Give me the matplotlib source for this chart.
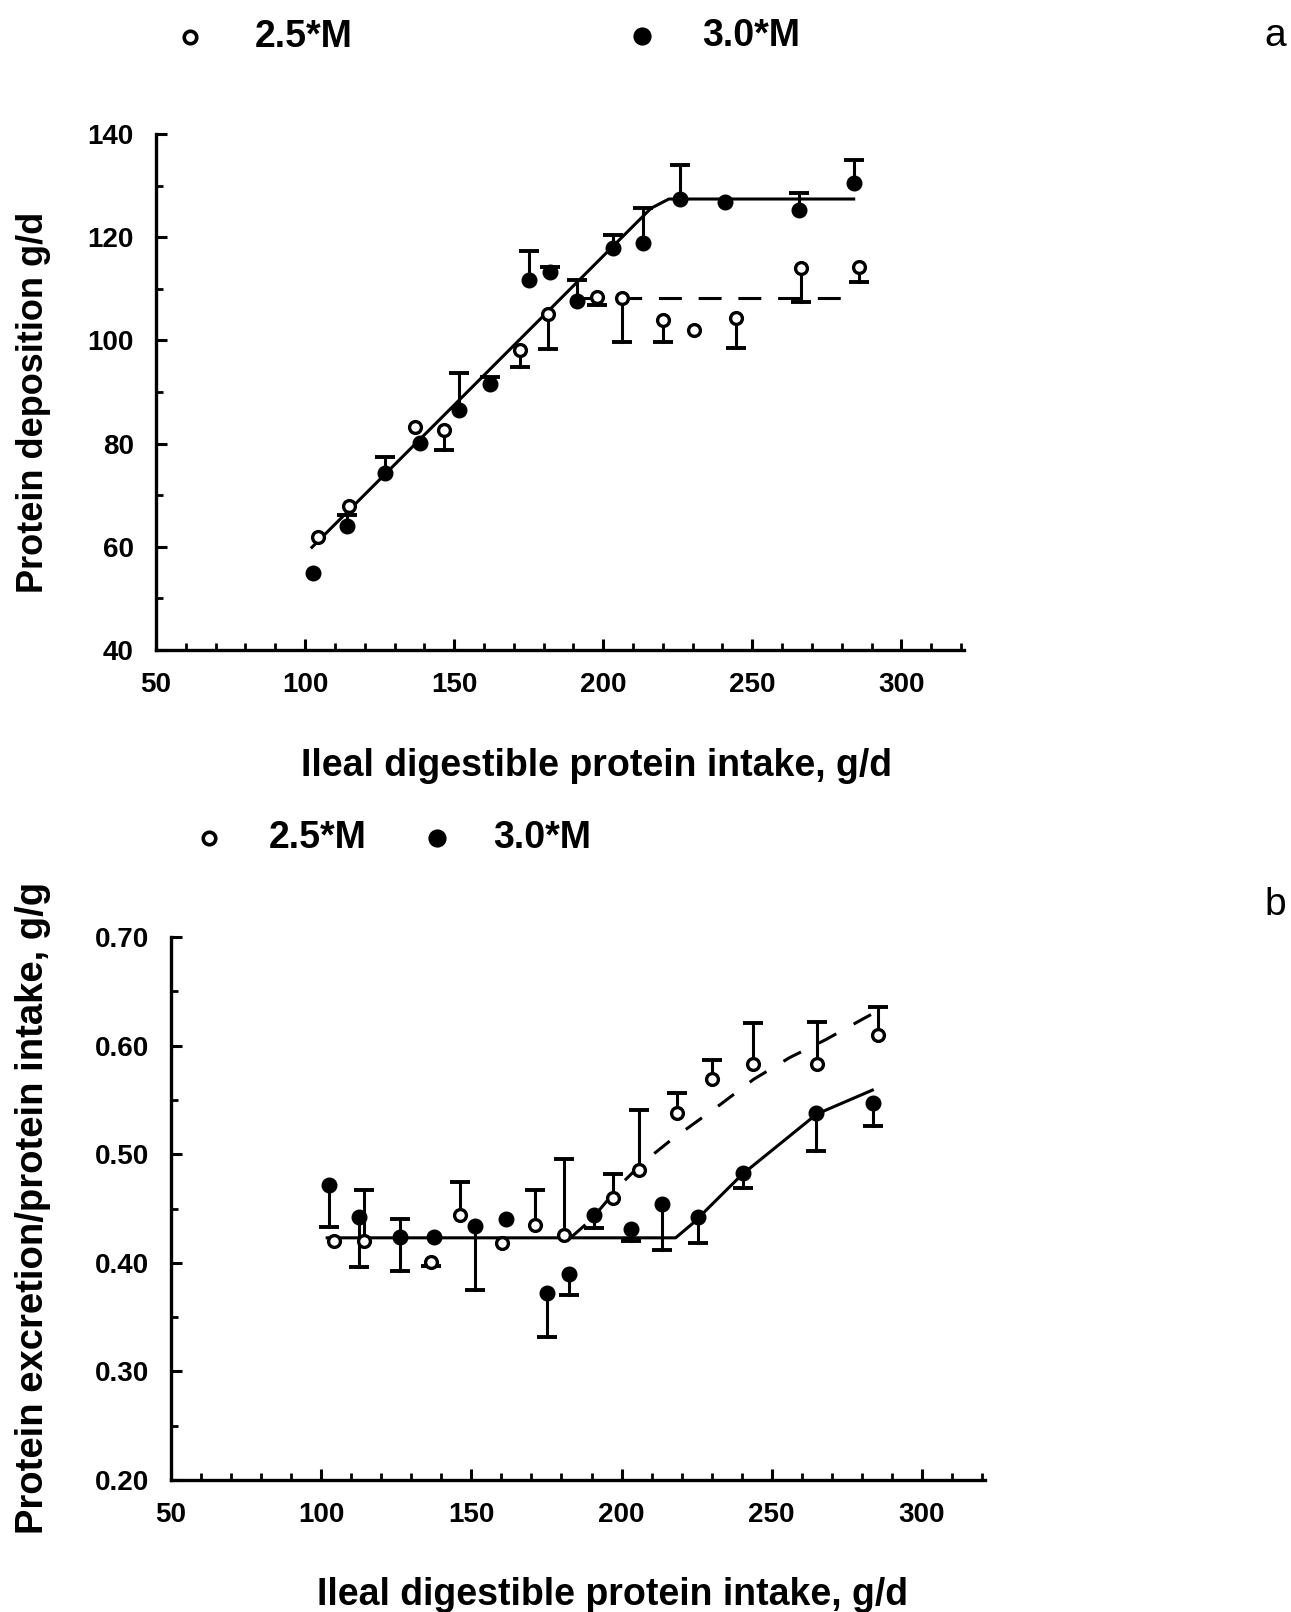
import matplotlib.pyplot as plt
from matplotlib.ticker import MultipleLocator

# ---- panel a: protein deposition ----
a_open_x = [104.2, 114.6, 136.9, 146.7, 172.2, 181.6, 198.0, 206.4, 219.9, 230.3, 244.4, 266.2, 285.7]
a_open_y = [61.9, 67.9, 83.2, 82.6, 98.1, 105.2, 108.4, 108.3, 104.0, 102.0, 104.3, 114.0, 114.2]
a_open_lo = [0, 0, 0, 3.9, 3.3, 6.8, 1.6, 8.7, 4.4, 0, 5.7, 6.5, 2.9]
a_open_hi = [0] * len(a_open_x)

a_full_x = [102.7, 113.9, 126.8, 138.6, 151.7, 162.1, 175.0, 182.3, 191.3, 203.4, 213.5, 225.9, 241.0, 265.6, 284.0]
a_full_y = [55.0, 64.1, 74.3, 80.2, 86.6, 91.5, 111.7, 113.2, 107.7, 118.0, 118.8, 127.5, 126.8, 125.2, 130.6]
a_full_lo = [0] * len(a_full_x)
a_full_hi = [0, 2.0, 3.1, 0, 7.0, 1.5, 5.6, 1.0, 4.0, 2.4, 6.8, 6.5, 0, 3.3, 4.3]

a_fit_full_x = [102.3, 216.0, 222.0, 284.0]
a_fit_full_y = [59.9, 125.6, 127.4, 127.4]
a_fit_open_x = [192.0, 284.0]
a_fit_open_y = [108.2, 108.2]

# ---- panel b: protein excretion / intake ----
b_open_x = [104.4, 114.4, 136.6, 146.1, 160.2, 171.3, 180.7, 197.2, 205.8, 218.3, 230.1, 243.6, 265.1, 285.5]
b_open_y = [0.420, 0.420, 0.401, 0.444, 0.418, 0.435, 0.426, 0.460, 0.485, 0.538, 0.569, 0.583, 0.583, 0.610]
b_open_lo = [0, 0, 0.004, 0, 0, 0, 0, 0, 0, 0, 0, 0, 0, 0]
b_open_hi = [0, 0.047, 0, 0.030, 0, 0.032, 0.070, 0.022, 0.056, 0.018, 0.018, 0.038, 0.039, 0.026]

b_full_x = [102.5, 112.7, 126.1, 137.4, 151.1, 161.6, 175.3, 182.5, 190.7, 203.3, 213.5, 225.5, 240.3, 264.9, 283.8]
b_full_y = [0.472, 0.442, 0.424, 0.424, 0.434, 0.440, 0.372, 0.390, 0.444, 0.431, 0.454, 0.442, 0.483, 0.538, 0.547]
b_full_lo = [0.039, 0.046, 0.032, 0, 0.059, 0, 0.040, 0.020, 0.012, 0.011, 0.042, 0.024, 0.014, 0.035, 0.021]
b_full_hi = [0, 0, 0.016, 0, 0, 0, 0, 0, 0, 0, 0, 0, 0, 0, 0]

b_fit_full_x = [102.0, 218.0, 224.0, 240.0, 265.0, 283.5]
b_fit_full_y = [0.423, 0.423, 0.437, 0.481, 0.537, 0.559]
b_fit_open_x = [183, 190, 200, 207, 216, 233, 244, 256, 268, 280, 284]
b_fit_open_y = [0.423, 0.440, 0.473, 0.492, 0.512, 0.546, 0.569, 0.589, 0.6055, 0.624, 0.630]

plt.rcParams['font.family'] = ['Liberation Sans', 'DejaVu Sans']
plt.rcParams['font.weight'] = 'bold'

W, H = 1291, 1612
fig = plt.figure(figsize=(W / 100, H / 100), dpi=100)

LW = 2.2


def draw_errors(ax, xs, ys, lo, hi):
    for x, y, l, h in zip(xs, ys, lo, hi):
        for end in (y - l, y + h):
            if end != y:
                ax.plot([x, x], [y, end], color='black', lw=LW, zorder=2)
                ax.plot([x], [end], marker='_', ms=14, mew=2.8, color='black', zorder=2)


def draw_points(ax, ox, oy, fx, fy):
    ax.plot(ox, oy, ls='none', marker='o', ms=8.5, mfc='white', mec='black', mew=2.4, zorder=4)
    ax.plot(fx, fy, ls='none', marker='o', ms=10.5, mfc='black', mec='black', zorder=4)


def style_axes(ax, ymajor, yminor, fmt):
    for s in ('top', 'right'):
        ax.spines[s].set_visible(False)
    for s in ('left', 'bottom'):
        ax.spines[s].set_linewidth(2.4)
    ax.set_xlim(50, 321)
    ax.xaxis.set_major_locator(MultipleLocator(50))
    ax.xaxis.set_minor_locator(MultipleLocator(10))
    ax.yaxis.set_major_locator(MultipleLocator(ymajor))
    ax.yaxis.set_minor_locator(MultipleLocator(yminor))
    ax.yaxis.set_major_formatter(fmt)
    ax.tick_params(which='major', direction='in', length=8, width=2.2, labelsize=20, pad=16)
    ax.tick_params(which='minor', direction='in', length=5, width=2.0)
    for lab in ax.get_xticklabels() + ax.get_yticklabels():
        lab.set_fontweight('bold')


# panel a
ax1 = fig.add_axes([156 / W, 1 - 650 / H, 808 / W, 516 / H])
ax1.plot(a_fit_full_x, a_fit_full_y, color='black', lw=LW, zorder=3)
ax1.plot(a_fit_open_x, a_fit_open_y, color='black', lw=LW, ls=(0, (7.5, 5.5)), zorder=3)
draw_errors(ax1, a_open_x, a_open_y, a_open_lo, a_open_hi)
draw_errors(ax1, a_full_x, a_full_y, a_full_lo, a_full_hi)
draw_points(ax1, a_open_x, a_open_y, a_full_x, a_full_y)
ax1.set_ylim(40, 140)
style_axes(ax1, 20, 10, '{x:.0f}')
ax1.set_xlabel('Ileal digestible protein intake, g/d', fontsize=27, fontweight='bold', va='center')
ax1.xaxis.set_label_coords(0.5446, -0.2248)
ax1.set_ylabel('Protein deposition g/d', fontsize=26, fontweight='bold', va='center')
ax1.yaxis.set_label_coords(-0.1522, 0.48)

# panel b
ax2 = fig.add_axes([171 / W, 1 - 1480 / H, 814 / W, 543 / H])
ax2.plot(b_fit_full_x, b_fit_full_y, color='black', lw=LW, zorder=3)
ax2.plot(b_fit_open_x, b_fit_open_y, color='black', lw=LW, ls=(0, (6.5, 6.5)), zorder=3)
draw_errors(ax2, b_open_x, b_open_y, b_open_lo, b_open_hi)
draw_errors(ax2, b_full_x, b_full_y, b_full_lo, b_full_hi)
draw_points(ax2, b_open_x, b_open_y, b_full_x, b_full_y)
ax2.set_ylim(0.20, 0.70)
style_axes(ax2, 0.10, 0.05, '{x:.2f}')
ax2.set_xlabel('Ileal digestible protein intake, g/d', fontsize=27, fontweight='bold', va='center')
ax2.xaxis.set_label_coords(0.5418, -0.2118)
ax2.set_ylabel('Protein excretion/protein intake, g/g', fontsize=27.5, fontweight='bold', va='center')
ax2.yaxis.set_label_coords(-0.1695, 0.501)


# legends as free text with marker glyphs
def legend_item(px, py, tx, label, filled):
    fig.lines.append(plt.Line2D([px / W], [1 - py / H], transform=fig.transFigure,
                                marker='o', ls='none', ms=10.5 if filled else 9,
                                mfc='black' if filled else 'white', mec='black',
                                mew=2.6))
    fig.text(tx / W, 1 - py / H, label, fontsize=27, fontweight='bold', va='center', ha='left')


legend_item(190, 37, 255, '2.5*M', False)
legend_item(642, 36, 702, '3.0*M', True)
legend_item(209, 838, 269, '2.5*M', False)
legend_item(437, 838, 493, '3.0*M', True)

fig.text(1275 / W, 1 - 36 / H, 'a', fontsize=28, fontweight='normal', ha='center', va='center')
fig.text(1275 / W, 1 - 905 / H, 'b', fontsize=28, fontweight='normal', ha='center', va='center')

fig.savefig('out.png', dpi=100, facecolor='white')
